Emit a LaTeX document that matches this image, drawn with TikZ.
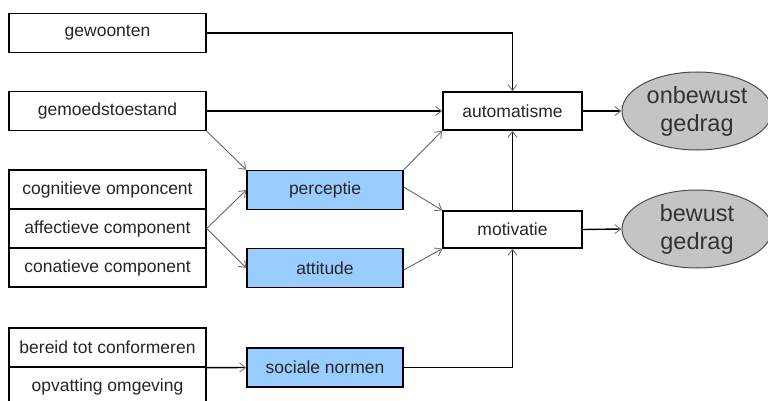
\documentclass[tikz,border=0pt]{standalone}
\usepackage{fontspec}
\setmainfont{Liberation Sans}
\usepackage{tikz}
\usetikzlibrary{positioning}
\usetikzlibrary{arrows.meta}
\usetikzlibrary{shapes.geometric}
\definecolor{normblue}{HTML}{99CCFF}
\definecolor{gedraggray}{HTML}{C4C4C4}
\begin{document}
\begin{tikzpicture}[
    x=1pt, y=-1pt,
    factor/.style={draw, line width=1.4pt, rectangle, minimum width=197pt, minimum height=39pt, inner sep=0pt, fill=white, text=black!85, font=\fontsize{17.5}{20}\selectfont},
    proces/.style={factor, minimum width=156pt, fill=normblue},
    uitkomst/.style={factor, minimum width=139pt, minimum height=38pt},
    gedrag/.style={draw=black!70, line width=1pt, ellipse, minimum width=150pt, minimum height=78pt, inner sep=0pt, fill=gedraggray, text=black!80, align=center, font=\fontsize{23.5}{28}\selectfont},
    tip/.style={-{Straight Barb[length=6pt, width=9pt, line width=0.9pt, color=black!55]}},
    flow/.style={tip, line width=1.4pt},
    link/.style={tip, line width=0.9pt, draw=black!60}
  ]
    \clip (0,0) rectangle (768,401);

    % Factoren links
    \node[factor] (gew) at (107.5, 33) {gewoonten};
    \node[factor] (gem) at (107.5, 111) {gemoedstoestand};

    \node[factor] (cog) at (107.5, 189.5) {cognitieve omponcent};
    \node[factor] (aff) at (107.5, 228.5) {affectieve component};
    \node[factor] (con) at (107.5, 267.5) {conatieve component};

    \node[factor] (ber) at (107.5, 347.5) {bereid tot conformeren};
    \node[factor] (opv) at (107.5, 386.5) {opvatting omgeving};

    % Processen
    \node[proces] (per) at (325, 190) {perceptie};
    \node[proces] (att) at (325, 268) {attitude};
    \node[proces] (soc) at (325, 367.5) {sociale normen};

    \node[uitkomst] (aut) at (512.5, 111) {automatisme};
    \node[uitkomst, minimum height=37pt] (mot) at (512.5, 229.5) {motivatie};

    % Gedrag
    \node[gedrag] (onb) at (697, 111) {onbewust\\gedrag};
    \node[gedrag] (bew) at (697, 229) {bewust\\gedrag};

    % Verbindingen
    \draw[flow] (gew.east) -| (aut.north);
    \draw[flow] (gem.east) -- (aut.west);
    \draw[link] (gem.south east) -- (per.north west);

    \draw[link] (aff.east) -- (per.west);
    \draw[link] (aff.east) -- (att.west);
    \draw[flow] (ber.south east) -- (soc.west);

    \draw[link] (per.north east) -- (aut.south west);
    \draw[link] ([yshift=3pt]per.east) -- (mot.north west);
    \draw[link] ([yshift=-2pt]att.east) -- (mot.south west);
    \draw[flow] (soc.east) -| (mot.south);

    \draw[flow] (mot.north) -- (aut.south);
    \draw[flow] (aut.east) -- (onb.west);
    \draw[flow] (mot.east) -- (bew.west);
  \end{tikzpicture}
\end{document}
